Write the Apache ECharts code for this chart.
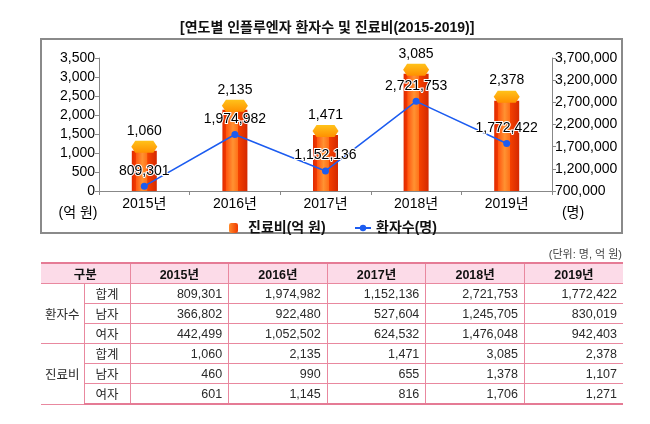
<!DOCTYPE html>
<html>
<head>
<meta charset="utf-8">
<script src="https://cdn.jsdelivr.net/npm/echarts@6/dist/echarts.min.js"></script>
<style>
  html, body { margin: 0; padding: 0; background: #fff; }
  #wrap { position: relative; width: 650px; height: 424px; }
  #chart { position: absolute; left: 0; top: 0; width: 650px; height: 424px; }
  #unit { position: absolute; right: 28px; top: 245px; font: 11px "Liberation Sans", "Noto Sans CJK KR", sans-serif; color: #444; }
  table { position: absolute; left: 41px; top: 262px; width: 582px; border-collapse: collapse;
    font: 12.5px "Liberation Sans", "Noto Sans CJK KR", sans-serif; color: #2a2a2a; table-layout: fixed; }
  td, th { height: 19px; padding: 0; border: 1px solid #e9889f; }
  th { background: #fcdbe8; color: #111; font-weight: bold; border-top: 2px solid #e57b95; }
  tr:last-child td { border-bottom: 2px solid #e57b95; }
  td.num { text-align: right; padding-right: 6px; }
  td.c { text-align: center; }
  tr > :first-child { border-left: none; }
  tr > :last-child { border-right: none; }
</style>
</head>
<body>
<div id="wrap">
  <div id="chart"></div>
  <div id="unit">(단위: 명, 억 원)</div>
  <table id="tbl"></table>
</div>
<script>
const years = ['2015년', '2016년', '2017년', '2018년', '2019년'];
const cost = [1060, 2135, 1471, 3085, 2378];
const patients = [809301, 1974982, 1152136, 2721753, 1772422];
const rightTicks = [700000, 1200000, 1700000, 2200000, 2700000, 3200000, 3700000];

const patientsMale = [366802, 922480, 527604, 1245705, 830019];
const patientsFemale = [442499, 1052502, 624532, 1476048, 942403];
const costMale = [460, 990, 655, 1378, 1107];
const costFemale = [601, 1145, 816, 1706, 1271];

const fmt = v => Number(v).toLocaleString('en-US');
const font = '"Liberation Sans", "Noto Sans CJK KR", sans-serif';

// table
const rows = [
  ['환자수', '합계', patients], ['', '남자', patientsMale], ['', '여자', patientsFemale],
  ['진료비', '합계', cost], ['', '남자', costMale], ['', '여자', costFemale]
];
let html = '<colgroup><col style="width:43px"><col style="width:46px">' +
  '<col><col><col><col><col></colgroup>';
html += '<tr><th colspan="2">구분</th>' + years.map(y => '<th>' + y + '</th>').join('') + '</tr>';
rows.forEach((r, i) => {
  html += '<tr>';
  if (i % 3 === 0) html += '<td class="c" rowspan="3">' + r[0] + '</td>';
  html += '<td class="c">' + r[1] + '</td>';
  html += r[2].map(v => '<td class="num">' + fmt(v) + '</td>').join('');
  html += '</tr>';
});
document.getElementById('tbl').innerHTML = html;

const chart = echarts.init(document.getElementById('chart'));

const barColor = new echarts.graphic.LinearGradient(0, 0, 1, 0, [
  {offset: 0, color: '#e02a00'},
  {offset: 0.15, color: '#f23a00'},
  {offset: 0.16, color: '#ff5610'},
  {offset: 0.42, color: '#ff9232'},
  {offset: 0.62, color: '#ff7018'},
  {offset: 0.63, color: '#f54200'},
  {offset: 1, color: '#d42800'}
]);
const capColor = new echarts.graphic.LinearGradient(0, 0, 0, 1, [
  {offset: 0, color: '#ffc21a'},
  {offset: 1, color: '#ff9000'}
]);
const swatchColor = new echarts.graphic.LinearGradient(0, 0, 1, 0, [
  {offset: 0, color: '#ff8a2a'},
  {offset: 1, color: '#f03a00'}
]);

chart.setOption({
  animation: false,
  textStyle: {fontFamily: font},
  title: {
    text: '[연도별 인플루엔자 환자수 및 진료비(2015-2019)]',
    left: 175, top: 16,
    textStyle: {fontSize: 14, fontWeight: 'bold', color: '#111', fontFamily: font}
  },
  graphic: [
    {type: 'rect', shape: {x: 41, y: 39, width: 581, height: 194},
      style: {fill: 'none', stroke: '#8a8a8a', lineWidth: 2}, z: -1},
    {type: 'text', x: 78, y: 213, style: {text: '(억 원)', fontSize: 14, fill: '#000',
      fontFamily: font, align: 'center', verticalAlign: 'middle'}},
    {type: 'text', x: 573, y: 213, style: {text: '(명)', fontSize: 14, fill: '#000',
      fontFamily: font, align: 'center', verticalAlign: 'middle'}}
  ],
  legend: [
    {data: [{name: '진료비(억 원)', itemStyle: {color: swatchColor}}], left: 224, top: 216,
      itemWidth: 9, itemHeight: 10,
      textStyle: {fontSize: 14, fontWeight: 'bold', color: '#111', padding: [0, 0, 0, 5]}},
    {data: ['환자수(명)'], left: 349, top: 216, itemWidth: 16, itemHeight: 8,
      textStyle: {fontSize: 14, fontWeight: 'bold', color: '#111'}}
  ],
  grid: {left: 99, right: 98, top: 58, bottom: 233},
  xAxis: {
    type: 'category',
    data: years,
    axisLine: {lineStyle: {color: '#888'}},
    axisTick: {show: true, length: 4, lineStyle: {color: '#888'}},
    axisLabel: {fontSize: 14, color: '#000', margin: 6}
  },
  yAxis: [
    {
      type: 'value', min: 0, max: 3500, interval: 500,
      axisLine: {show: true, lineStyle: {color: '#888'}},
      axisTick: {show: true, length: 4, lineStyle: {color: '#888'}},
      splitLine: {show: false},
      axisLabel: {fontSize: 14, color: '#000', margin: 4, formatter: v => fmt(v)}
    },
    {
      type: 'value', min: 700000, max: 3700000, position: 'right',
      axisLine: {show: true, lineStyle: {color: '#888'}},
      axisTick: {show: true, length: 4, lineStyle: {color: '#888'}, customValues: rightTicks},
      splitLine: {show: false},
      axisLabel: {fontSize: 14, color: '#000', margin: 3, formatter: v => fmt(v), customValues: rightTicks}
    }
  ],
  series: [
    {
      name: '진료비(억 원)',
      type: 'bar',
      data: cost,
      barWidth: 25,
      itemStyle: {color: barColor},
      label: {show: true, position: 'top', distance: 13, fontSize: 14, color: '#000',
        formatter: p => fmt(p.value)},
      z: 2
    },
    {
      name: 'cap',
      type: 'pictorialBar',
      data: cost,
      symbol: 'path://M4,0 L22,0 L26,6 L22,12 L4,12 L0,6 Z',
      symbolSize: [26, 12],
      symbolPosition: 'end',
      symbolOffset: [0, -10],
      itemStyle: {color: capColor},
      z: 3,
      silent: true
    },
    {
      name: '환자수(명)',
      type: 'line',
      yAxisIndex: 1,
      data: patients,
      symbol: 'circle',
      symbolSize: 7,
      lineStyle: {color: '#1c5cf0', width: 1.5},
      itemStyle: {color: '#1c5cf0'},
      label: {show: true, position: 'top', distance: 5, fontSize: 14, color: '#000',
        textBorderColor: '#fff', textBorderWidth: 2, formatter: p => fmt(p.value)},
      z: 5
    }
  ]
});
</script>
</body>
</html>
